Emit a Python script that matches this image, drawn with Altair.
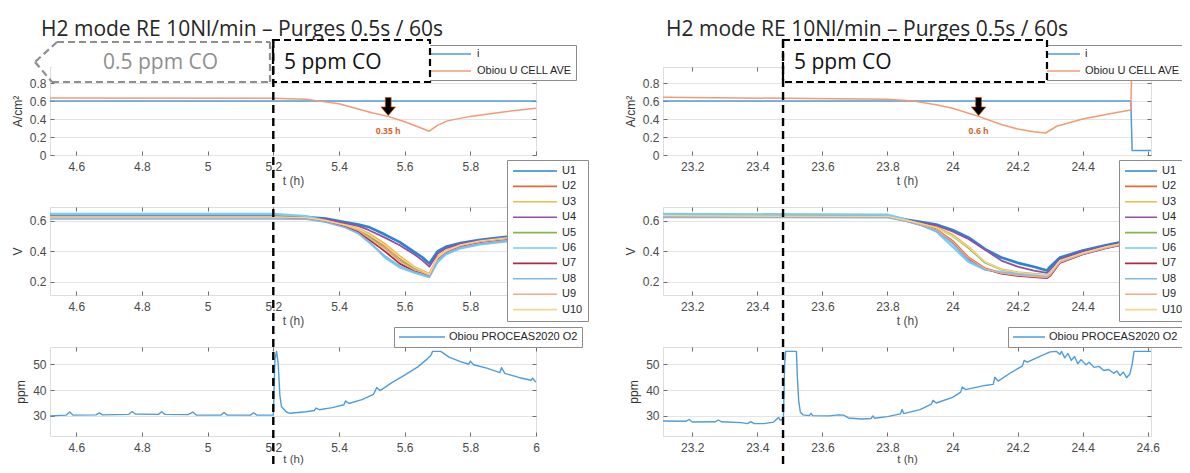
import altair as alt
import pandas as pd

# ---------------- texts ----------------
TITLE = "H2 mode RE 10Nl/min – Purges 0.5s / 60s"
LOW_CO = "0.5 ppm CO"
HIGH_CO = "5 ppm CO"
X_TITLE = "t (h)"
Y_TITLES = ["A/cm²", "V", "ppm"]

TOP_SERIES = ["i", "Obiou U CELL AVE"]
MID_SERIES = ["U1", "U2", "U3", "U4", "U5", "U6", "U7", "U8", "U9", "U10"]
BOT_SERIES = ["Obiou PROCEAS2020 O2"]

TOP_COLORS = ["#4f9cdb", "#f29a74"]
MID_COLORS = ["#2b83cf", "#e06a38", "#efbb45", "#9150a2", "#83b84a",
              "#74cdf2", "#ad2a44", "#82b8e6", "#f4a98a", "#f5d58f"]
BOT_COLORS = ["#4f9cdb"]
TOP_WIDTHS = [1.5, 1.5]
MID_WIDTHS = [2.6, 1.6, 1.6, 1.8, 1.6, 2.2, 1.8, 1.6, 1.3, 1.3]
BOT_WIDTHS = [1.4]

TOP_Y = [0, 0.98]
MID_Y = [0.115, 0.69]
BOT_Y = [22.2, 56.7]
TOP_Y_TICKS = [0, 0.2, 0.4, 0.6, 0.8]
MID_Y_TICKS = [0.2, 0.4, 0.6]
BOT_Y_TICKS = [30, 40, 50]

# ---------------- left run ----------------
L_X_DOMAIN = [4.52, 6.0]
L_X_TICKS = [4.6, 4.8, 5.0, 5.2, 5.4, 5.6, 5.8, 6.0]
L_CO_STEP = [5.2]
L_ARROW_T = [5.55]
L_ARROW_LABEL = ["0.35 h"]

L_TOP_T = [4.52, 5.2, 5.3, 5.34, 5.4, 5.45, 5.5, 5.55, 5.6, 5.65, 5.675, 5.70, 5.73, 5.8, 5.9, 6.0]
L_I = [0.6, 0.6, 0.6, 0.6, 0.6, 0.6, 0.6, 0.6, 0.6, 0.6, 0.6, 0.6, 0.6, 0.6, 0.6, 0.6]
L_UCELL = [0.635, 0.632, 0.62, 0.60, 0.57, 0.52, 0.47, 0.43, 0.37, 0.30, 0.265, 0.33, 0.38, 0.43, 0.48, 0.52]

L_MID_T = [4.52, 5.2, 5.3, 5.36, 5.42, 5.46, 5.49, 5.54, 5.585, 5.63, 5.655, 5.675, 5.70, 5.725, 5.77, 5.83, 5.91, 6.0]
L_MID_V = [
    [0.628, 0.628, 0.625, 0.615, 0.59, 0.575, 0.56, 0.51, 0.46, 0.395, 0.36, 0.32, 0.40, 0.43, 0.455, 0.475, 0.495, 0.51],
    [0.624, 0.624, 0.62, 0.60, 0.57, 0.54, 0.505, 0.435, 0.355, 0.29, 0.27, 0.25, 0.36, 0.40, 0.44, 0.465, 0.485, 0.50],
    [0.626, 0.626, 0.622, 0.605, 0.575, 0.55, 0.52, 0.45, 0.37, 0.30, 0.275, 0.255, 0.365, 0.405, 0.445, 0.47, 0.49, 0.505],
    [0.627, 0.627, 0.624, 0.61, 0.585, 0.565, 0.54, 0.49, 0.44, 0.38, 0.34, 0.30, 0.385, 0.42, 0.45, 0.47, 0.49, 0.505],
    [0.625, 0.625, 0.62, 0.60, 0.57, 0.54, 0.50, 0.42, 0.34, 0.285, 0.265, 0.25, 0.355, 0.40, 0.44, 0.465, 0.485, 0.50],
    [0.645, 0.645, 0.63, 0.60, 0.56, 0.52, 0.47, 0.36, 0.295, 0.26, 0.245, 0.232, 0.33, 0.38, 0.42, 0.445, 0.465, 0.48],
    [0.622, 0.622, 0.618, 0.598, 0.565, 0.53, 0.48, 0.40, 0.32, 0.27, 0.255, 0.24, 0.35, 0.395, 0.435, 0.46, 0.48, 0.495],
    [0.612, 0.612, 0.61, 0.59, 0.555, 0.515, 0.46, 0.37, 0.305, 0.265, 0.25, 0.235, 0.34, 0.385, 0.425, 0.45, 0.47, 0.485],
    [0.623, 0.623, 0.619, 0.60, 0.568, 0.535, 0.49, 0.415, 0.335, 0.28, 0.262, 0.245, 0.355, 0.398, 0.438, 0.462, 0.482, 0.497],
    [0.625, 0.625, 0.621, 0.603, 0.572, 0.545, 0.51, 0.44, 0.36, 0.295, 0.27, 0.252, 0.36, 0.402, 0.442, 0.468, 0.488, 0.503],
]

L_BOT_T = [4.52, 4.57, 4.58, 4.59, 4.66, 4.67, 4.68, 4.76, 4.77, 4.78, 4.85, 4.86, 4.87, 4.94, 4.955,
           4.965, 5.04, 5.05, 5.06, 5.13, 5.14, 5.15, 5.2, 5.205, 5.21, 5.215, 5.22, 5.225, 5.24, 5.25,
           5.3, 5.325, 5.33, 5.34, 5.38, 5.415, 5.42, 5.43, 5.47, 5.505, 5.515, 5.525, 5.56, 5.6, 5.64,
           5.67, 5.68, 5.685, 5.71, 5.735, 5.77, 5.795, 5.8, 5.81, 5.85, 5.89, 5.895, 5.905, 5.95, 5.985,
           5.99, 6.0]
L_O2 = [30.0, 30.3, 31.5, 30.3, 30.4, 31.2, 30.4, 30.6, 31.7, 30.7, 30.6, 31.6, 30.6, 30.5, 31.5,
        30.3, 30.3, 31.3, 30.3, 30.3, 31.2, 30.3, 30.3, 52.0, 55.0, 50.0, 38.0, 33.5, 31.5, 31.0,
        31.6, 32.1, 33.0, 32.4, 33.2, 34.3, 35.8, 34.8, 36.3, 38.3, 41.0, 39.8, 42.8, 45.8, 49.0,
        52.2, 53.5, 55.0, 55.0, 52.8, 51.0, 50.0, 51.2, 49.8, 48.5, 46.8, 48.7, 46.5, 44.8, 43.8,
        44.6, 43.0]

# ---------------- right run ----------------
R_X_DOMAIN = [23.11, 24.61]
R_X_TICKS = [23.2, 23.4, 23.6, 23.8, 24.0, 24.2, 24.4, 24.6]
R_CO_STEP = [23.479]
R_ARROW_T = [24.08]
R_ARROW_LABEL = ["0.6 h"]

R_TOP_T = [23.11, 23.8, 23.88, 23.95, 24.0, 24.08, 24.15, 24.2, 24.25, 24.286, 24.32, 24.4, 24.5, 24.548, 24.552, 24.61]
R_I = [0.6, 0.6, 0.6, 0.6, 0.6, 0.6, 0.6, 0.6, 0.6, 0.6, 0.6, 0.6, 0.6, 0.6, 0.05, 0.05]
R_UCELL = [0.644, 0.62, 0.60, 0.56, 0.52, 0.43, 0.34, 0.29, 0.26, 0.245, 0.32, 0.40, 0.47, 0.50, 1.2, 1.2]

R_MID_T = [23.11, 23.8, 23.85, 23.9, 23.95, 24.0, 24.05, 24.1, 24.15, 24.2, 24.25, 24.29, 24.3, 24.33, 24.4, 24.47, 24.55, 24.61]
R_MID_V = [
    [0.636, 0.632, 0.61, 0.594, 0.575, 0.54, 0.49, 0.415, 0.36, 0.325, 0.30, 0.275, 0.30, 0.36, 0.405, 0.44, 0.475, 0.49],
    [0.632, 0.628, 0.605, 0.58, 0.545, 0.47, 0.36, 0.29, 0.26, 0.245, 0.24, 0.232, 0.25, 0.33, 0.385, 0.425, 0.46, 0.475],
    [0.634, 0.630, 0.608, 0.585, 0.56, 0.51, 0.43, 0.33, 0.285, 0.265, 0.255, 0.245, 0.26, 0.34, 0.39, 0.43, 0.465, 0.48],
    [0.635, 0.631, 0.61, 0.59, 0.57, 0.53, 0.48, 0.41, 0.34, 0.30, 0.275, 0.26, 0.28, 0.35, 0.40, 0.435, 0.47, 0.485],
    [0.633, 0.629, 0.607, 0.583, 0.555, 0.50, 0.42, 0.325, 0.28, 0.262, 0.252, 0.243, 0.258, 0.338, 0.388, 0.428, 0.463, 0.478],
    [0.645, 0.64, 0.612, 0.575, 0.53, 0.43, 0.33, 0.28, 0.265, 0.255, 0.25, 0.245, 0.26, 0.335, 0.385, 0.425, 0.46, 0.475],
    [0.630, 0.626, 0.602, 0.575, 0.54, 0.46, 0.35, 0.285, 0.255, 0.24, 0.232, 0.225, 0.24, 0.325, 0.38, 0.42, 0.455, 0.47],
    [0.622, 0.62, 0.60, 0.572, 0.535, 0.45, 0.34, 0.282, 0.26, 0.248, 0.24, 0.235, 0.25, 0.33, 0.383, 0.423, 0.458, 0.473],
    [0.631, 0.627, 0.604, 0.578, 0.543, 0.465, 0.355, 0.288, 0.258, 0.243, 0.236, 0.228, 0.245, 0.328, 0.383, 0.423, 0.458, 0.473],
    [0.633, 0.629, 0.607, 0.583, 0.555, 0.50, 0.425, 0.33, 0.283, 0.263, 0.253, 0.244, 0.259, 0.339, 0.389, 0.429, 0.464, 0.479],
]

R_BOT_T = [23.11, 23.18, 23.19, 23.2, 23.27, 23.28, 23.29, 23.35, 23.37, 23.38, 23.39, 23.42, 23.45, 23.465,
           23.47, 23.48, 23.484, 23.487, 23.52, 23.523, 23.527, 23.532, 23.54, 23.56, 23.565, 23.57, 23.62,
           23.65, 23.665, 23.68, 23.72, 23.75, 23.755, 23.76, 23.8, 23.84, 23.845, 23.85, 23.9, 23.935, 23.94,
           23.95, 24.0, 24.025, 24.03, 24.04, 24.1, 24.125, 24.13, 24.14, 24.18, 24.215, 24.22, 24.23, 24.27,
           24.3, 24.32, 24.33, 24.335, 24.345, 24.355, 24.365, 24.375, 24.385, 24.395, 24.41, 24.42, 24.435,
           24.45, 24.465, 24.48, 24.495, 24.505, 24.515, 24.525, 24.535, 24.545, 24.552, 24.558, 24.61]
R_O2 = [28.0, 27.9, 28.6, 27.6, 27.7, 28.4, 27.7, 27.4, 27.0, 27.8, 27.0, 27.0, 27.6, 29.4,
        28.4, 28.6, 50.0, 55.0, 55.0, 45.0, 36.0, 31.5, 30.4, 30.1, 31.0, 30.1, 30.0,
        30.4, 30.3, 29.2, 28.8, 29.0, 30.0, 29.1, 29.7, 30.8, 32.5, 30.9, 32.4, 34.6, 36.0,
        35.0, 37.2, 39.2, 41.2, 40.2, 41.8, 42.2, 45.0, 43.5, 46.8, 49.4, 51.5, 50.8, 53.2,
        54.8, 55.0, 53.8, 55.0, 52.5, 54.2, 51.5, 53.0, 50.2, 51.8, 49.8, 50.8, 48.8,
        49.2, 47.6, 48.0, 46.5, 47.4, 45.6, 47.0, 44.8, 46.2, 50.0, 55.0, 55.0]

ARROW_V = [0.54]
ARROW_LABEL_V = [0.27]

# ---------------- style / layout ----------------
FONT = "Liberation Sans"
DECO_FONT = "Open Sans"
AX_COLOR = "#6f6f6f"
LABEL_COLOR = "#4a4a4a"
GRID_COLOR = "#e4e4e4"
W_L, W_R = 486, 488
H_TOP, H_MID, H_BOT = 88, 88, 89
VSPACE, HSPACE = 52, 127
ARROW_PATH = "M-0.32,-1L0.32,-1L0.32,0.05L0.8,0.05L0,1L-0.8,0.05L-0.32,0.05Z"
NUM_FMT = ".6~g"


def long_df(t, names, values, widths):
    rows = []
    for name, vals, w in zip(names, values, widths):
        for tt, vv in zip(t, vals):
            rows.append({"t": tt, "v": vv, "series": name, "sw": w})
    return pd.DataFrame(rows)


def x_axis(ticks, orient, title_pad=3, title_size=12):
    if orient == "bottom":
        return alt.Axis(orient="bottom", values=ticks, format=NUM_FMT, title=X_TITLE, offset=-4,
                        tickSize=4, tickColor=AX_COLOR, domain=False, grid=False, labelPadding=6,
                        labelFont=FONT, labelFontSize=12, labelColor=LABEL_COLOR, labelFlush=False,
                        labelOverlap=False, titleFont=FONT, titleFontSize=title_size,
                        titleFontWeight="normal", titleColor=LABEL_COLOR, titlePadding=title_pad)
    return alt.Axis(orient="top", values=ticks, labels=False, title=None, offset=-4, tickSize=4,
                    tickColor=AX_COLOR, domain=False, grid=False)


def y_axis(ticks, title, orient):
    if orient == "left":
        return alt.Axis(orient="left", values=ticks, format=NUM_FMT, title=title, offset=-4, tickSize=4,
                        tickColor=AX_COLOR, domain=False, grid=True, gridColor=GRID_COLOR,
                        labelPadding=4, labelFont=FONT, labelFontSize=12, labelColor=LABEL_COLOR,
                        titleFont=FONT, titleFontSize=12, titleFontWeight="normal",
                        titleColor="#333333", titlePadding=5)
    return alt.Axis(orient="right", values=ticks, labels=False, title=None, offset=-4, tickSize=4,
                    tickColor=AX_COLOR, domain=False, grid=False)


def legend(x, y, sym_len, pad, row_pad, lab_off):
    return alt.Legend(orient="none", legendX=x, legendY=y, title=None, symbolType="stroke",
                      symbolSize=sym_len * sym_len, symbolStrokeWidth=1.6, padding=pad,
                      rowPadding=row_pad, clipHeight=12, labelOffset=lab_off, labelFont=FONT,
                      labelFontSize=11, labelColor="#262626", fillColor="white",
                      strokeColor="#8c8c8c", cornerRadius=0, symbolOffset=0)


def panel(df, xdom, xticks, ydom, yticks, ytitle, series, colors, leg, w, h, extras, bottom_row=False):
    xs = alt.Scale(domain=xdom, nice=False, zero=False)
    ys = alt.Scale(domain=ydom, nice=False, zero=False)
    xa = x_axis(xticks, "bottom", 0, 11.5) if bottom_row else x_axis(xticks, "bottom")
    lines = alt.Chart(df).mark_line(clip=True, strokeJoin="round").encode(
        x=alt.X("t:Q", scale=xs, axis=xa),
        y=alt.Y("v:Q", scale=ys, axis=y_axis(yticks, ytitle, "left")),
        color=alt.Color("series:N", scale=alt.Scale(domain=series, range=colors), legend=leg),
        strokeWidth=alt.StrokeWidth("sw:Q", scale=None, legend=None),
        detail="series:N",
    )
    frame = alt.Chart(pd.DataFrame({"t": [xdom[0]], "v": [ydom[0]]})).mark_point(opacity=0).encode(
        x=alt.X("t:Q", scale=xs, axis=x_axis(xticks, "top")),
        y=alt.Y("v:Q", scale=ys, axis=y_axis(yticks, None, "right")),
    )
    layers = [lines, frame] + [make(xs, ys) for make in extras]
    return alt.layer(*layers).resolve_axis(x="independent", y="independent").properties(width=w, height=h)


def title_layer(dx):
    def make(xs, ys):
        return alt.Chart(pd.DataFrame({"label": [TITLE]})).mark_text(
            align="left", baseline="alphabetic", font=DECO_FONT, fontSize=21, color="#262626"
        ).encode(x=alt.value(dx), y=alt.value(-31), text="label:N")
    return make


def arrow_layer(ts):
    def make(xs, ys):
        return alt.Chart(pd.DataFrame({"t": ts, "v": ARROW_V})).mark_point(
            shape=ARROW_PATH, filled=True, size=330, color="black", stroke="#c55a11",
            strokeWidth=0.7, opacity=1
        ).encode(x=alt.X("t:Q", scale=xs, axis=None), y=alt.Y("v:Q", scale=ys, axis=None))
    return make


def arrow_text_layer(ts, label):
    def make(xs, ys):
        return alt.Chart(pd.DataFrame({"t": ts, "v": ARROW_LABEL_V, "label": label})).mark_text(
            font=DECO_FONT, fontSize=8.5, fontWeight="bold", color="#d0652a", baseline="middle"
        ).encode(x=alt.X("t:Q", scale=xs, axis=None), y=alt.Y("v:Q", scale=ys, axis=None), text="label:N")
    return make


def co_line_layer(ts):
    def make(xs, ys):
        return alt.Chart(pd.DataFrame({"t": ts})).mark_rule(
            color="black", strokeWidth=2.4, strokeDash=[8, 5]
        ).encode(x=alt.X("t:Q", scale=xs, axis=None), y=alt.value(-307), y2=alt.value(130))
    return make


def box_layer(x0, x1, fill_only=False, color="black"):
    def make(xs, ys):
        if fill_only:
            return alt.Chart(pd.DataFrame({"k": [0]})).mark_rect(fill="white").encode(
                x=alt.value(x0), x2=alt.value(x1), y=alt.value(-305), y2=alt.value(-265))
        return alt.Chart(pd.DataFrame({"k": [0]})).mark_rect(
            fill="white", stroke=color, strokeWidth=2.2, strokeDash=[7, 4]
        ).encode(x=alt.value(x0), x2=alt.value(x1), y=alt.value(-307), y2=alt.value(-265))
    return make


def seg_layer(x0, y0, x1, y1, color):
    def make(xs, ys):
        return alt.Chart(pd.DataFrame({"k": [0]})).mark_rule(
            color=color, strokeWidth=2.2, strokeDash=[7, 4]
        ).encode(x=alt.value(x0), y=alt.value(y0), x2=alt.value(x1), y2=alt.value(y1))
    return make


def text_layer(text, x, color):
    def make(xs, ys):
        return alt.Chart(pd.DataFrame({"label": [text]})).mark_text(
            align="left", baseline="alphabetic", font=DECO_FONT, fontSize=21, color=color
        ).encode(x=alt.value(x), y=alt.value(-278), text="label:N")
    return make


GRAY = "#8f8f8f"

top_L = panel(long_df(L_TOP_T, TOP_SERIES, [L_I, L_UCELL], TOP_WIDTHS), L_X_DOMAIN, L_X_TICKS,
              TOP_Y, TOP_Y_TICKS, Y_TITLES[0], TOP_SERIES, TOP_COLORS,
              legend(374, -22, 43, 3, 5, 5), W_L, H_TOP,
              [title_layer(-9), arrow_layer(L_ARROW_T), arrow_text_layer(L_ARROW_T, L_ARROW_LABEL)])
mid_L = panel(long_df(L_MID_T, MID_SERIES, L_MID_V, MID_WIDTHS), L_X_DOMAIN, L_X_TICKS,
              MID_Y, MID_Y_TICKS, Y_TITLES[1], MID_SERIES, MID_COLORS,
              legend(457, -47, 44, 5, 3.4, 4), W_L, H_MID, [])
bot_L = panel(long_df(L_BOT_T, BOT_SERIES, [L_O2], BOT_WIDTHS), L_X_DOMAIN, L_X_TICKS,
              BOT_Y, BOT_Y_TICKS, Y_TITLES[2], BOT_SERIES, BOT_COLORS,
              legend(344, -20, 46, 4, 0, 3), W_L, H_BOT,
              [box_layer(2, 220, fill_only=True),
               seg_layer(7, -305, 220, -305, GRAY), seg_layer(220, -305, 220, -265, GRAY),
               seg_layer(2, -265, 220, -265, GRAY), seg_layer(7, -305, -15, -285, GRAY),
               seg_layer(-15, -285, 2, -265, GRAY),
               box_layer(223, 380), co_line_layer(L_CO_STEP),
               text_layer(LOW_CO, 53, GRAY), text_layer(HIGH_CO, 234, "#111111")],
              bottom_row=True)

top_R = panel(long_df(R_TOP_T, TOP_SERIES, [R_I, R_UCELL], TOP_WIDTHS), R_X_DOMAIN, R_X_TICKS,
              TOP_Y, TOP_Y_TICKS, Y_TITLES[0], TOP_SERIES, TOP_COLORS,
              legend(375, -22, 38, 3, 5, 4), W_R, H_TOP,
              [title_layer(3), arrow_layer(R_ARROW_T), arrow_text_layer(R_ARROW_T, R_ARROW_LABEL)])
mid_R = panel(long_df(R_MID_T, MID_SERIES, R_MID_V, MID_WIDTHS), R_X_DOMAIN, R_X_TICKS,
              MID_Y, MID_Y_TICKS, Y_TITLES[1], MID_SERIES, MID_COLORS,
              legend(456, -47, 32, 5, 3.4, 4), W_R, H_MID, [])
bot_R = panel(long_df(R_BOT_T, BOT_SERIES, [R_O2], BOT_WIDTHS), R_X_DOMAIN, R_X_TICKS,
              BOT_Y, BOT_Y_TICKS, Y_TITLES[2], BOT_SERIES, BOT_COLORS,
              legend(345, -20, 32, 4, 0, 3), W_R, H_BOT,
              [box_layer(120, 384), co_line_layer(R_CO_STEP), text_layer(HIGH_CO, 131, "#111111")],
              bottom_row=True)

chart = alt.concat(top_L, top_R, mid_L, mid_R, bot_L, bot_R, columns=2,
                   spacing={"row": VSPACE, "column": HSPACE}, bounds="flush").resolve_scale(
    color="independent", x="independent", y="independent").resolve_legend(
    color="independent").properties(
    autosize=alt.AutoSizeParams(type="none"),
    padding={"left": 42, "top": 59, "right": 1132, "bottom": 398},
).configure_view(stroke=AX_COLOR, strokeWidth=1).configure(background="white")

chart.save("out.html", embed_options={"renderer": "svg", "actions": False})
